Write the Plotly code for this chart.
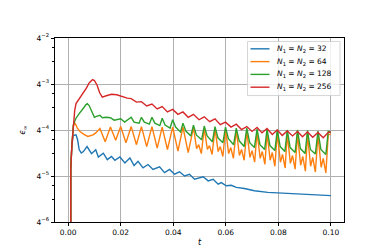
import math
import plotly.graph_objects as go

# ---- data (t, eps_inf) ----
t_32 = [0.00098, 0.0010, 0.0014, 0.0019, 0.0023, 0.0030, 0.0036, 0.0042, 0.0050, 0.0058,
        0.0072, 0.0089, 0.0105, 0.0115, 0.0134, 0.0149, 0.0165, 0.0178, 0.0197, 0.0216,
        0.0235, 0.0251, 0.0266, 0.0285, 0.0304, 0.0323, 0.0348, 0.0367, 0.0386, 0.0405,
        0.0424, 0.0443, 0.0462, 0.0481, 0.0514, 0.0533, 0.0552, 0.0571, 0.0583, 0.0602,
        0.0621, 0.0640, 0.0671, 0.0709, 0.0760, 0.0810, 0.0860, 0.0924, 0.1000]
eps_32 = [1e-6, 1.20e-3, 2.37e-3, 3.32e-3, 3.33e-3, 3.37e-3, 2.91e-3, 2.17e-3, 1.95e-3, 2.04e-3,
          2.37e-3, 1.91e-3, 2.15e-3, 1.73e-3, 1.94e-3, 1.60e-3, 1.76e-3, 1.57e-3, 1.73e-3, 1.45e-3,
          1.68e-3, 1.34e-3, 1.52e-3, 1.25e-3, 1.38e-3, 1.19e-3, 1.29e-3, 1.08e-3, 1.19e-3, 1.03e-3,
          1.11e-3, 9.77e-4, 1.03e-3, 8.86e-4, 9.56e-4, 8.43e-4, 8.86e-4, 7.64e-4, 8.01e-4, 7.27e-4,
          7.38e-4, 6.92e-4, 6.71e-4, 6.27e-4, 5.97e-4, 5.86e-4, 5.69e-4, 5.53e-4, 5.41e-4]

t_64 = [0.00098, 0.0010, 0.0014, 0.0020, 0.0027, 0.0035, 0.0045, 0.0060, 0.0075, 0.0085,
        0.0095, 0.0105, 0.0121, 0.0141, 0.0161, 0.0181, 0.0200, 0.0220, 0.0240, 0.0260,
        0.0279, 0.0299, 0.0319, 0.0339, 0.0358, 0.0378, 0.0398, 0.0418, 0.0437, 0.0457,
        0.0477, 0.0489, 0.0497, 0.0507,
        0.0518, 0.0530, 0.0538, 0.0548,
        0.0559, 0.0571, 0.0579, 0.0589,
        0.0599, 0.0611, 0.0619, 0.0629,
        0.0640, 0.0652, 0.0660, 0.0670,
        0.0680, 0.0692, 0.0700, 0.0710,
        0.0719, 0.0731, 0.0739, 0.0749,
        0.0757, 0.0769, 0.0777, 0.0787,
        0.0796, 0.0808, 0.0816, 0.0826,
        0.0834, 0.0846, 0.0854, 0.0864,
        0.0873, 0.0885, 0.0893, 0.0903,
        0.0911, 0.0923, 0.0931, 0.0941,
        0.0951, 0.0963, 0.0971, 0.0981,
        0.0990, 0.1000]
eps_64 = [1e-6, 1.20e-3, 2.37e-3, 4.53e-3, 4.73e-3, 4.14e-3, 3.74e-3, 3.42e-3, 3.22e-3, 3.27e-3,
          3.37e-3, 3.58e-3, 4.08e-3, 2.74e-3, 4.27e-3, 2.87e-3, 4.33e-3, 2.66e-3, 4.33e-3, 2.51e-3,
          4.33e-3, 2.37e-3, 4.33e-3, 2.26e-3, 4.27e-3, 2.17e-3, 4.27e-3, 2.07e-3, 4.27e-3, 1.98e-3,
          4.21e-3, 2.23e-3, 2.51e-3, 1.92e-3,
          4.14e-3, 2.17e-3, 2.44e-3, 1.87e-3,
          4.08e-3, 2.04e-3, 2.37e-3, 1.76e-3,
          4.02e-3, 1.92e-3, 2.30e-3, 1.66e-3,
          3.91e-3, 1.81e-3, 2.17e-3, 1.57e-3,
          3.79e-3, 1.71e-3, 2.10e-3, 1.48e-3,
          3.68e-3, 1.66e-3, 2.04e-3, 1.39e-3,
          3.58e-3, 1.57e-3, 1.98e-3, 1.31e-3,
          3.58e-3, 1.48e-3, 1.87e-3, 1.24e-3,
          3.47e-3, 1.43e-3, 1.81e-3, 1.20e-3,
          3.47e-3, 1.35e-3, 1.76e-3, 1.13e-3,
          3.37e-3, 1.31e-3, 1.71e-3, 1.10e-3,
          3.37e-3, 1.27e-3, 1.66e-3, 1.07e-3,
          3.37e-3, 3.47e-3]

t_128 = [0.00098, 0.0010, 0.0014, 0.0020, 0.0025, 0.0030, 0.0040, 0.0050, 0.0060, 0.0068,
         0.0073, 0.0080, 0.0090, 0.0100, 0.0108, 0.0121, 0.0130, 0.0145, 0.0161, 0.0175,
         0.0200, 0.0215,
         0.0240, 0.0251, 0.0270,
         0.0279, 0.0290, 0.0309,
         0.0319, 0.0330, 0.0349,
         0.0358, 0.0369, 0.0388,
         0.0398, 0.0409, 0.0428,
         0.0437, 0.0448, 0.0467,
         0.0477, 0.0488, 0.0508,
         0.0518, 0.0529, 0.0549,
         0.0559, 0.0570, 0.0589,
         0.0599, 0.0610, 0.0630,
         0.0640, 0.0651, 0.0670,
         0.0680, 0.0691, 0.0709,
         0.0719, 0.0730, 0.0748,
         0.0757, 0.0768, 0.0787,
         0.0796, 0.0807, 0.0825,
         0.0834, 0.0845, 0.0864,
         0.0873, 0.0884, 0.0902,
         0.0911, 0.0922, 0.0941,
         0.0951, 0.0962, 0.0981,
         0.0990, 0.1000]
eps_128 = [1e-6, 1.20e-3, 2.37e-3, 4.53e-3, 5.09e-3, 5.57e-3, 6.26e-3, 6.84e-3, 7.70e-3, 8.41e-3,
           8.66e-3, 8.17e-3, 6.84e-3, 5.73e-3, 5.90e-3, 6.08e-3, 5.65e-3, 5.73e-3, 5.65e-3, 5.25e-3,
           5.48e-3, 4.95e-3,
           5.73e-3, 4.95e-3, 4.80e-3,
           5.73e-3, 4.95e-3, 4.66e-3,
           5.73e-3, 4.80e-3, 4.46e-3,
           5.57e-3, 4.53e-3, 4.14e-3,
           5.32e-3, 4.27e-3, 3.68e-3,
           4.80e-3, 3.79e-3, 3.27e-3,
           4.53e-3, 3.37e-3, 2.91e-3,
           4.40e-3, 3.27e-3, 2.74e-3,
           4.33e-3, 3.09e-3, 2.66e-3,
           4.27e-3, 3.00e-3, 2.51e-3,
           4.14e-3, 2.82e-3, 2.37e-3,
           4.14e-3, 2.66e-3, 2.30e-3,
           4.02e-3, 2.51e-3, 2.17e-3,
           4.02e-3, 2.44e-3, 2.10e-3,
           3.96e-3, 2.37e-3, 2.04e-3,
           3.91e-3, 2.30e-3, 1.98e-3,
           3.91e-3, 2.23e-3, 1.92e-3,
           3.85e-3, 2.17e-3, 1.90e-3,
           3.79e-3, 2.17e-3, 1.87e-3,
           3.74e-3, 3.68e-3]

t_256 = [0.00098, 0.0010, 0.0014, 0.0020, 0.0025, 0.0030, 0.0040, 0.0050, 0.0060, 0.0070,
         0.0080, 0.0087, 0.0093, 0.0100, 0.0110, 0.0120, 0.0130, 0.0145, 0.0165, 0.0185,
         0.0205, 0.0225, 0.0240, 0.0260, 0.0279, 0.0299, 0.0319, 0.0339, 0.0358, 0.0378,
         0.0398, 0.0418, 0.0437, 0.0457, 0.0477, 0.0498, 0.0518, 0.0539, 0.0559, 0.0579,
         0.0599, 0.0620, 0.0640, 0.0660, 0.0680, 0.0700, 0.0719, 0.0738, 0.0757, 0.0777,
         0.0796, 0.0815, 0.0834, 0.0854, 0.0873, 0.0892, 0.0911, 0.0931, 0.0951, 0.0971,
         0.0990, 0.1000]
eps_256 = [1e-6, 1.20e-3, 2.37e-3, 4.53e-3, 7.05e-3, 8.66e-3, 9.75e-3, 1.065e-2, 1.198e-2, 1.389e-2,
           1.609e-2, 1.733e-2, 1.784e-2, 1.733e-2, 1.517e-2, 1.198e-2, 1.049e-2, 1.097e-2, 1.146e-2, 1.130e-2,
           1.065e-2, 1.019e-2, 1.004e-2, 9.05e-3, 9.19e-3, 8.05e-3, 8.54e-3, 7.37e-3, 7.93e-3, 6.74e-3,
           7.26e-3, 6.26e-3, 6.74e-3, 5.73e-3, 6.26e-3, 5.32e-3, 5.82e-3, 5.02e-3, 5.48e-3, 4.59e-3,
           4.95e-3, 4.27e-3, 4.66e-3, 3.96e-3, 4.33e-3, 3.74e-3, 4.21e-3, 3.58e-3, 4.08e-3, 3.42e-3,
           3.91e-3, 3.32e-3, 3.79e-3, 3.27e-3, 3.74e-3, 3.18e-3, 3.68e-3, 3.13e-3, 3.63e-3, 3.09e-3,
           3.63e-3, 3.68e-3]

series_names = ["<i>N</i><sub>1</sub> = <i>N</i><sub>2</sub> = 32",
                "<i>N</i><sub>1</sub> = <i>N</i><sub>2</sub> = 64",
                "<i>N</i><sub>1</sub> = <i>N</i><sub>2</sub> = 128",
                "<i>N</i><sub>1</sub> = <i>N</i><sub>2</sub> = 256"]
series_t = [t_32, t_64, t_128, t_256]
series_eps = [eps_32, eps_64, eps_128, eps_256]
colors = ["#1f77b4", "#ff7f0e", "#2ca02c", "#d62728"]

x_ticks = [0.00, 0.02, 0.04, 0.06, 0.08, 0.10]
y_tickvals = [4.0 ** -6, 4.0 ** -5, 4.0 ** -4, 4.0 ** -3, 4.0 ** -2]
y_ticktext = ["4<sup>\u22126</sup>", "4<sup>\u22125</sup>", "4<sup>\u22124</sup>",
              "4<sup>\u22123</sup>", "4<sup>\u22122</sup>"]
y_minor = [m * 4.0 ** e for e in (-6, -5, -4, -3) for m in (2, 3)]

FONT = "DejaVu Sans"
fig = go.Figure()
for name, tt, ee, c in zip(series_names, series_t, series_eps, colors):
    fig.add_trace(go.Scatter(x=tt, y=ee, mode="lines", name=name,
                             line=dict(color=c, width=1.4), showlegend=False))

# legend (matplotlib-like box), placed in paper coordinates
L, R, T, B = 47, 38, 30, 32
W, H = 374 - L - R, 249 - T - B


def px(x):
    return (x - L) / W


def py(y):
    return 1 - (y - T) / H


shapes = [dict(type="rect", xref="paper", yref="paper",
               x0=px(239.5), x1=px(332), y0=py(88.5), y1=py(33.5),
               fillcolor="rgba(255,255,255,0.8)", line=dict(color="#cccccc", width=0.8))]
annotations = []
for i, (name, c) in enumerate(zip(series_names, colors)):
    yy = 41 + 13 * i
    shapes.append(dict(type="line", xref="paper", yref="paper",
                       x0=px(242.5), x1=px(261.5), y0=py(yy), y1=py(yy),
                       line=dict(color=c, width=1.4)))
    annotations.append(dict(xref="paper", yref="paper", x=px(267), y=py(yy),
                            text=name, showarrow=False, xanchor="left", yanchor="middle",
                            font=dict(family=FONT, size=7.5, color="black")))

fig.update_layout(
    width=374, height=249,
    margin=dict(l=L, r=R, t=T, b=B),
    paper_bgcolor="white", plot_bgcolor="white",
    font=dict(family=FONT, size=7.5, color="black"),
    shapes=shapes, annotations=annotations,
)
fig.update_xaxes(
    range=[-0.005, 0.105], tickvals=x_ticks, tickformat=".2f",
    showgrid=True, gridcolor="#b0b0b0", gridwidth=0.8,
    showline=True, linecolor="black", linewidth=0.9, mirror=True,
    ticks="outside", ticklen=3.5, tickwidth=0.8, tickcolor="black",
    zeroline=False,
    title=dict(text="<i>t</i>", font=dict(family=FONT, size=8), standoff=2),
)
fig.update_yaxes(
    type="log", range=[math.log10(4.0 ** -6), math.log10(4.0 ** -2)],
    tickvals=y_tickvals, ticktext=y_ticktext,
    showgrid=True, gridcolor="#b0b0b0", gridwidth=0.8,
    showline=True, linecolor="black", linewidth=0.9, mirror=True,
    ticks="outside", ticklen=3.5, tickwidth=0.8, tickcolor="black",
    minor=dict(tickvals=y_minor, ticks="outside", ticklen=2, tickwidth=0.6,
               tickcolor="black", showgrid=False),
    zeroline=False,
    title=dict(text="<i>\u03f5</i><sub>\u221e</sub>", font=dict(family=FONT, size=8), standoff=9),
)
fig.write_html("out.html")
